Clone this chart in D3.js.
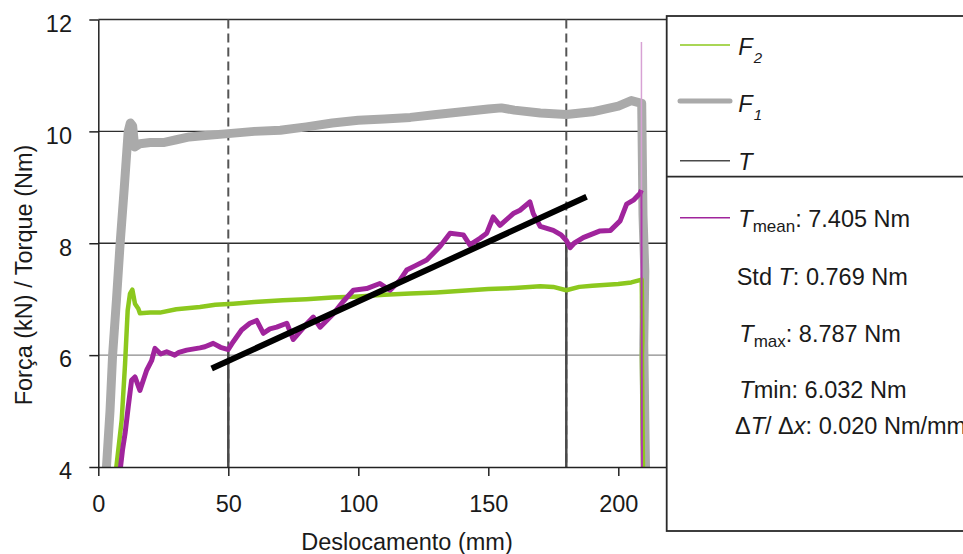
<!DOCTYPE html>
<html lang="pt">
<head>
<meta charset="utf-8">
<script src="https://d3js.org/d3.v7.min.js"></script>
<title>Força / Torque x Deslocamento</title>
<style>
  body { margin: 0; background: #fff; }
  svg text { font-family: "Liberation Sans", Arial, Helvetica, sans-serif; fill: #1a1a1a; }
</style>
</head>
<body>
<div id="chart"></div>
<script>
// ticks
var xTicks = [0, 50, 100, 150, 200];
var yTicks = [4, 6, 8, 10, 12];
var gridValues = [6, 8, 10, 12];
// limites do intervalo de análise (mm)
var markers = [50, 180];

// F1 (kN) - [deslocamento mm, valor]
var f1 = [[3.0,3.9],[4.5,5.0],[5.5,6.0],[7.0,7.0],[8.4,8.0],[10.0,9.0],[11.5,10.0],[12.3,10.15],[13.2,10.1],
  [14.0,9.72],[16,9.78],[20,9.8],[25,9.8],[30,9.85],[35,9.9],[40,9.92],[50,9.96],[60,10.0],[70,10.02],
  [80,10.08],[90,10.15],[100,10.2],[110,10.22],[120,10.25],[130,10.3],[140,10.35],[150,10.4],[155,10.42],
  [160,10.38],[170,10.33],[180,10.3],[190,10.35],[200,10.45],[205,10.55],[209,10.5],[209.5,8.5],
  [210.2,7.5],[209.8,6.2],[210.3,4.5],[210.5,3.9]];

// F2 (kN)
var f2 = [[6.7,3.9],[9.0,4.84],[10.3,5.85],[11.3,6.8],[12.2,7.1],[13.1,7.17],[14.1,6.92],[15.4,6.83],
  [16,6.75],[20,6.76],[23.7,6.76],[30,6.82],[39.1,6.86],[45,6.9],[51.9,6.92],[60,6.95],[71,6.98],[80,7.0],
  [90,7.03],[100,7.05],[110,7.08],[120,7.1],[130,7.12],[140,7.15],[150,7.18],[160,7.2],[170,7.23],
  [175,7.22],[180,7.16],[185,7.22],[190,7.24],[200,7.27],[205,7.3],[209,7.35],[209.3,6.3],[209.1,6.0],[209.5,3.9]];

// T mean (Nm)
var tMean = [[8.3,3.9],[9.3,4.3],[10.3,4.6],[11.5,5.07],[12.8,5.55],[14.1,5.61],[16.0,5.37],[18.6,5.73],
  [20.5,5.9],[21.8,6.12],[24,6.02],[26.3,6.06],[29.4,6.0],[31,6.05],[34.0,6.09],[39.1,6.13],[41,6.15],[44.2,6.21],[47,6.14],
  [50,6.1],[51.9,6.24],[55.1,6.45],[58.3,6.57],[60.9,6.62],[63.5,6.39],[66,6.47],[68.6,6.5],[72.5,6.57],
  [75,6.28],[77.6,6.42],[80,6.55],[82.7,6.68],[85.3,6.5],[90.4,6.74],[94,6.95],[98.1,7.16],[103.2,7.19],
  [108.3,7.28],[112.2,7.16],[116,7.34],[118.6,7.52],[122,7.6],[126.3,7.7],[131.4,7.94],[135.3,8.18],
  [140.4,8.15],[142.9,7.97],[146.8,8.09],[149.4,8.18],[151.9,8.47],[154.5,8.32],[159.6,8.53],[162.2,8.59],
  [166,8.74],[167.3,8.53],[170,8.3],[175,8.23],[178,8.15],[180,8.05],[181.5,7.92],[183,8.0],[186.5,8.1],
  [193,8.22],[197,8.23],[200.7,8.4],[203.2,8.7],[205.8,8.77],[208.3,8.89],[208.9,8.95]];
var tMeanSpike = [[208.9,11.6],[208.9,8.95]];
var tMeanDrop = [[208.9,8.95],[209.1,3.9]];

// reta de regressão
var trend = [[43.6,5.76],[187.8,8.83]];

// textos da legenda
var statLines = ["Std T: 0.769 Nm", "Tmax: 8.787 Nm", "Tmin: 6.032 Nm", "ΔT/ Δx: 0.020 Nm/mm"];

var width = 963, height = 554;
var fs = 23.5;
var svg = d3.select("#chart").append("svg")
    .attr("width", width)
    .attr("height", height);

var x = d3.scaleLinear().domain([0, 220]).range([98.3, 670.3]);
var y = d3.scaleLinear().domain([4, 12]).range([467, 19.5]);

var line = d3.line().x(function(d){ return x(d[0]); }).y(function(d){ return y(d[1]); });

svg.append("clipPath").attr("id", "plot")
  .append("rect")
    .attr("x", x(0)).attr("y", y(12) - 2)
    .attr("width", x(220) - x(0)).attr("height", y(4) - y(12) + 2);

// grade horizontal
svg.append("g").selectAll("line")
  .data(gridValues).enter().append("line")
    .attr("x1", x(0)).attr("x2", x(220))
    .attr("y1", function(d){ return y(d); })
    .attr("y2", function(d){ return y(d); })
    .attr("stroke", function(d){ return d === 6 ? "#8a8a8a" : "#2e2e2e"; })
    .attr("stroke-width", 1.3);

// linhas tracejadas
svg.append("g").selectAll("line")
  .data(markers).enter().append("line")
    .attr("x1", function(d){ return x(d); }).attr("x2", function(d){ return x(d); })
    .attr("y1", y(12)).attr("y2", y(4))
    .attr("stroke", "#555").attr("stroke-width", 2)
    .attr("stroke-dasharray", "9,5");

var series = svg.append("g").attr("clip-path", "url(#plot)").attr("fill", "none");

// T (apenas dentro do intervalo)
var tSeries = [[markers[0], 3.9]].concat(
    tMean.filter(function(d){ return d[0] >= markers[0] && d[0] <= markers[1]; }),
    [[markers[1], 3.9]]);
series.append("path").attr("d", line(tSeries))
    .attr("stroke", "#4a4a4a").attr("stroke-width", 2.5);

series.append("path").attr("d", line(f1))
    .attr("stroke", "#aaaaaa").attr("stroke-width", 9).attr("stroke-linejoin", "round");
series.append("path").attr("d", line(f2))
    .attr("stroke", "#8cc81e").attr("stroke-width", 4.5).attr("stroke-linejoin", "round");
series.append("path").attr("d", line(tMean))
    .attr("stroke", "#a0249c").attr("stroke-width", 5).attr("stroke-linejoin", "round");
series.append("path").attr("d", line(tMeanSpike))
    .attr("stroke", "#d7a2d4").attr("stroke-width", 1.5);
series.append("path").attr("d", line(tMeanDrop))
    .attr("stroke", "#b03aac").attr("stroke-width", 2);

// reta de tendência
series.append("path").attr("d", line(trend))
    .attr("stroke", "#000").attr("stroke-width", 6);

// eixos
var yAxis = d3.axisLeft(y).tickValues(yTicks).tickSize(9).tickSizeOuter(0).tickPadding(17.3);
var xAxis = d3.axisBottom(x).tickValues(xTicks).tickSize(9).tickSizeOuter(0).tickPadding(19.5);

var gy = svg.append("g").attr("transform", "translate(" + x(0) + ",0)").call(yAxis);
var gx = svg.append("g").attr("transform", "translate(0," + y(4) + ")").call(xAxis);
[gx, gy].forEach(function(g){
  g.select(".domain").attr("stroke", "#222").attr("stroke-width", 1.5);
  g.selectAll(".tick line").attr("stroke", "#222").attr("stroke-width", 1.5);
  g.selectAll(".tick text").attr("font-size", fs).attr("fill", "#1a1a1a")
    .style("font-family", "'Liberation Sans', Arial, sans-serif");
});
gy.selectAll(".tick text").attr("dy", "0.5em");

svg.append("text")
    .attr("x", 407).attr("y", 550)
    .attr("text-anchor", "middle").attr("font-size", fs)
    .text("Deslocamento (mm)");

svg.append("text")
    .attr("transform", "translate(32,275) rotate(-90)")
    .attr("text-anchor", "middle").attr("font-size", fs)
    .text("Força (kN) / Torque (Nm)");

// legenda
var lg = svg.append("g");
lg.append("rect")
    .attr("x", 666.7).attr("y", 16).attr("width", 320).attr("height", 515)
    .attr("fill", "#fff").attr("stroke", "#2a2a2a").attr("stroke-width", 1.8);
lg.append("line").attr("x1", 666.7).attr("x2", 990).attr("y1", 176.7).attr("y2", 176.7)
    .attr("stroke", "#2a2a2a").attr("stroke-width", 1.8);

var keys = [
  {y: 45, color: "#8cc81e", w: 1.5, label: "F", sub: "2", base: 55},
  {y: 101, color: "#aaaaaa", w: 5, label: "F", sub: "1", base: 111.7},
  {y: 160.7, color: "#4a4a4a", w: 1.5, label: "T", sub: "", base: 170},
  {y: 217.7, color: "#a0249c", w: 1.5, label: "T", sub: "", base: 226.7}
];
var keyTexts = keys.map(function(k){
  lg.append("line").attr("x1", 680).attr("x2", 730).attr("y1", k.y).attr("y2", k.y)
    .attr("stroke", k.color).attr("stroke-width", k.w).attr("stroke-linecap", k.w > 2 ? "round" : "butt");
  var t = lg.append("text").attr("x", 738.3).attr("y", k.base).attr("font-size", fs);
  t.append("tspan").attr("font-style", "italic").text(k.label);
  if (k.sub) t.append("tspan").attr("font-size", 15).attr("font-style", "italic").attr("dx", 1).attr("dy", 8).text(k.sub);
  return t;
});
// T mean
var tm = keyTexts[3];
tm.append("tspan").attr("font-size", 17).attr("dy", 5).text("mean");
tm.append("tspan").attr("dy", -5).text(": 7.405 Nm");

// estatísticas
var s0 = lg.append("text").attr("x", 736.7).attr("y", 285).attr("font-size", fs);
s0.append("tspan").text("Std ");
s0.append("tspan").attr("font-style", "italic").text("T");
s0.append("tspan").text(statLines[0].slice(5));

var s1 = lg.append("text").attr("x", 739.3).attr("y", 341.7).attr("font-size", fs);
s1.append("tspan").attr("font-style", "italic").text("T");
s1.append("tspan").attr("font-size", 17).attr("dy", 5).text("max");
s1.append("tspan").attr("dy", -5).text(statLines[1].slice(4));

var s2 = lg.append("text").attr("x", 739.3).attr("y", 398.3).attr("font-size", fs);
s2.append("tspan").attr("font-style", "italic").text("T");
s2.append("tspan").text(statLines[2].slice(1));

var s3 = lg.append("text").attr("x", 735).attr("y", 434.3).attr("font-size", fs);
s3.append("tspan").text("Δ");
s3.append("tspan").attr("font-style", "italic").text("T");
s3.append("tspan").text("/ Δ");
s3.append("tspan").attr("font-style", "italic").text("x");
s3.append("tspan").text(statLines[3].slice(6));
</script>
</body>
</html>
